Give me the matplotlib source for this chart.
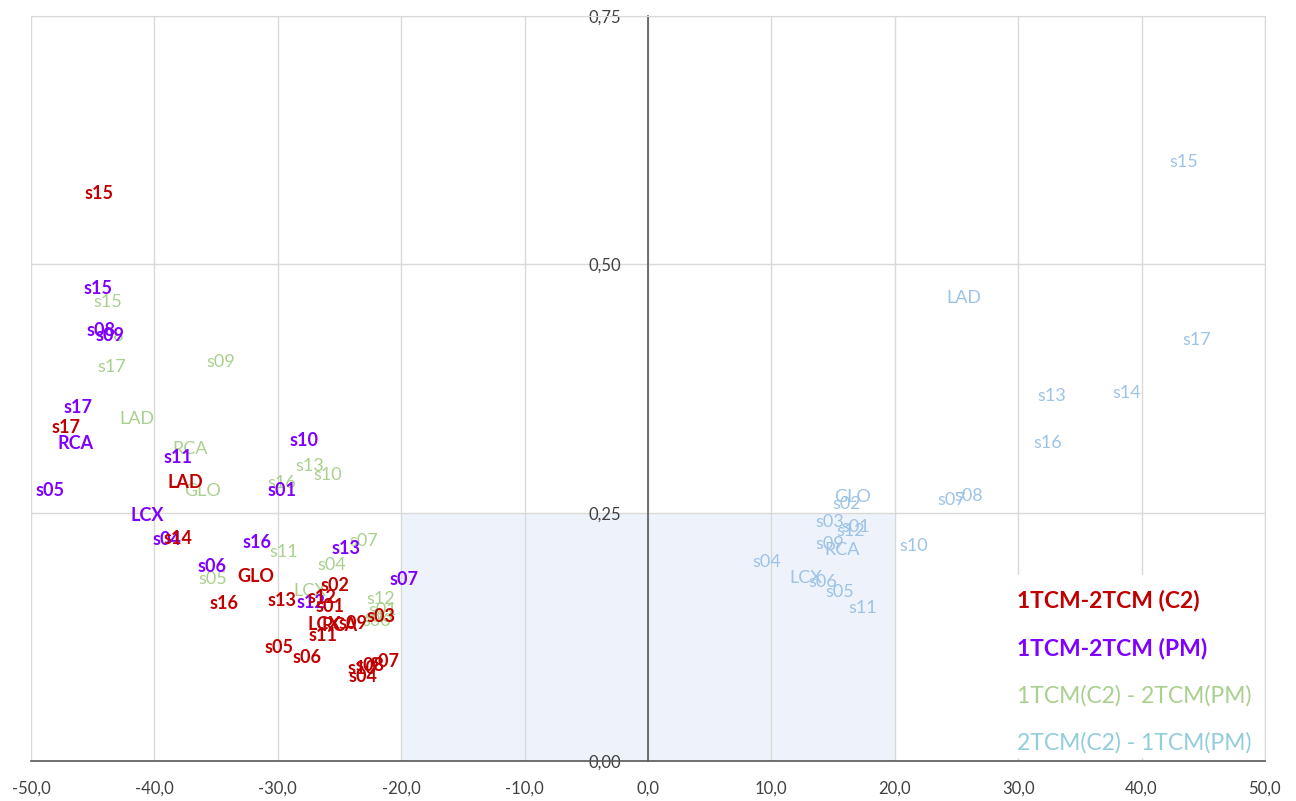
import matplotlib.pyplot as plt
from matplotlib.patches import Rectangle
from matplotlib.ticker import FuncFormatter, MultipleLocator

plt.rcParams['font.family'] = ['Lato', 'DejaVu Sans']

# 1TCM-2TCM (C2)
red_labels = ['s15', 's17', 'LAD', 's14', 'GLO', 's16', 's13', 's02', 's01', 's12',
              'LCX', 'RCA', 's09', 's11', 's03', 's05', 's06', 's07', 's10', 's08', 's04']
red_x = [-44.5, -47.2, -37.5, -38.1, -31.8, -34.4, -29.7, -25.4, -25.8, -26.4,
         -26.2, -25.0, -23.9, -26.3, -21.6, -29.9, -27.6, -21.3, -23.2, -22.5, -23.1]
red_y = [0.571, 0.336, 0.280, 0.224, 0.186, 0.159, 0.162, 0.177, 0.156, 0.165,
         0.137, 0.136, 0.138, 0.126, 0.145, 0.114, 0.104, 0.100, 0.093, 0.096, 0.085]

# 1TCM-2TCM (PM)
purple_labels = ['s15', 's08', 's09', 's17', 'RCA', 's11', 's05', 'LCX', 's04', 's10',
                 's01', 's16', 's06', 's13', 's07', 's12']
purple_x = [-44.6, -44.3, -43.6, -46.2, -46.4, -38.1, -48.5, -40.6, -39.0, -27.9,
            -29.7, -31.7, -35.3, -24.5, -19.8, -27.3]
purple_y = [0.476, 0.433, 0.428, 0.356, 0.320, 0.306, 0.272, 0.247, 0.223, 0.323,
            0.272, 0.220, 0.196, 0.214, 0.183, 0.160]

# 1TCM(C2) - 2TCM(PM)
green_labels = ['s15', 's08', 's17', 's09', 'LAD', 'RCA', 'GLO', 's16', 's13', 's10',
                's11', 's07', 's04', 's05', 'LCX', 's12', 's01', 's03', 's06']
green_x = [-43.8, -43.6, -43.5, -34.6, -41.4, -37.1, -36.1, -29.7, -27.4, -26.0,
           -29.5, -23.0, -25.6, -35.3, -27.4, -21.7, -21.5, -21.8, -22.0]
green_y = [0.462, 0.428, 0.397, 0.402, 0.344, 0.314, 0.272, 0.280, 0.297, 0.288,
           0.210, 0.221, 0.197, 0.183, 0.171, 0.163, 0.152, 0.145, 0.141]

# 2TCM(C2) - 1TCM(PM)
blue_labels = ['s15', 'LAD', 's17', 's13', 's14', 's16', 's07', 's08', 'GLO', 's02',
               's03', 's01', 's12', 's09', 'RCA', 's10', 's04', 'LCX', 's06', 's05', 's11']
blue_x = [43.4, 25.6, 44.5, 32.7, 38.8, 32.4, 24.6, 26.0, 16.6, 16.1,
          14.7, 16.8, 16.4, 14.7, 15.7, 21.5, 9.6, 12.8, 14.2, 15.5, 17.4]
blue_y = [0.603, 0.466, 0.424, 0.367, 0.370, 0.320, 0.263, 0.267, 0.266, 0.259,
          0.241, 0.236, 0.232, 0.218, 0.212, 0.216, 0.200, 0.184, 0.180, 0.170, 0.154]

legend_names = ['1TCM-2TCM (C2)', '1TCM-2TCM (PM)', '1TCM(C2) - 2TCM(PM)', '2TCM(C2) - 1TCM(PM)']
legend_colors = ['#C00000', '#7F00FF', '#A9D08E', '#92CDDC']
legend_bold = [True, True, False, False]

fig = plt.figure(figsize=(12.96, 8.01), dpi=100)
ax = fig.add_axes([0.024, 0.05, 0.952, 0.93])
ax.set_xlim(-50, 50)
ax.set_ylim(0, 0.75)

# shaded zone
ax.add_patch(Rectangle((-20, 0), 40, 0.25, facecolor='#EEF2FB', edgecolor='none', zorder=0))

ax.xaxis.set_major_locator(MultipleLocator(10))
ax.yaxis.set_major_locator(MultipleLocator(0.25))
ax.grid(True, color='#D9D9D9', linewidth=1, zorder=0.5)
ax.set_axisbelow(True)

ax.spines['left'].set_position(('data', 0))
for s in ['left', 'bottom']:
    ax.spines[s].set_color('#595959')
    ax.spines[s].set_linewidth(1.2)
for s in ['top', 'right']:
    ax.spines[s].set_color('#D9D9D9')

ax.xaxis.set_major_formatter(FuncFormatter(lambda v, p: f'{v:.1f}'.replace('.', ',')))
ax.yaxis.set_major_formatter(FuncFormatter(lambda v, p: f'{v:.2f}'.replace('.', ',')))
ax.tick_params(axis='both', length=0, labelsize=12, labelcolor='#404040')
ax.tick_params(axis='x', pad=14)
ax.tick_params(axis='y', pad=19)

def put_labels(labels, xs, ys, color, bold):
    for lab, x, y in zip(labels, xs, ys):
        ax.text(x, y, lab, color=color, fontsize=13, ha='center', va='center',
                fontweight='bold' if bold else 'normal', zorder=3)

put_labels(green_labels, green_x, green_y, '#A9D08E', False)
put_labels(blue_labels, blue_x, blue_y, '#9DC3E6', False)
put_labels(purple_labels, purple_x, purple_y, '#7F00FF', True)
put_labels(red_labels, red_x, red_y, '#C00000', True)

# legend panel
ax.add_patch(Rectangle((0.786, 0.004), 0.212, 0.245, transform=ax.transAxes,
                       facecolor='white', edgecolor='none', zorder=4))
for i, (name, col, b) in enumerate(zip(legend_names, legend_colors, legend_bold)):
    ax.text(0.799, 0.215 - i * 0.0635, name, transform=ax.transAxes, color=col,
            fontsize=16.5, fontweight='bold' if b else 'normal', ha='left', va='center', zorder=5)

fig.savefig('out.png', dpi=100)
